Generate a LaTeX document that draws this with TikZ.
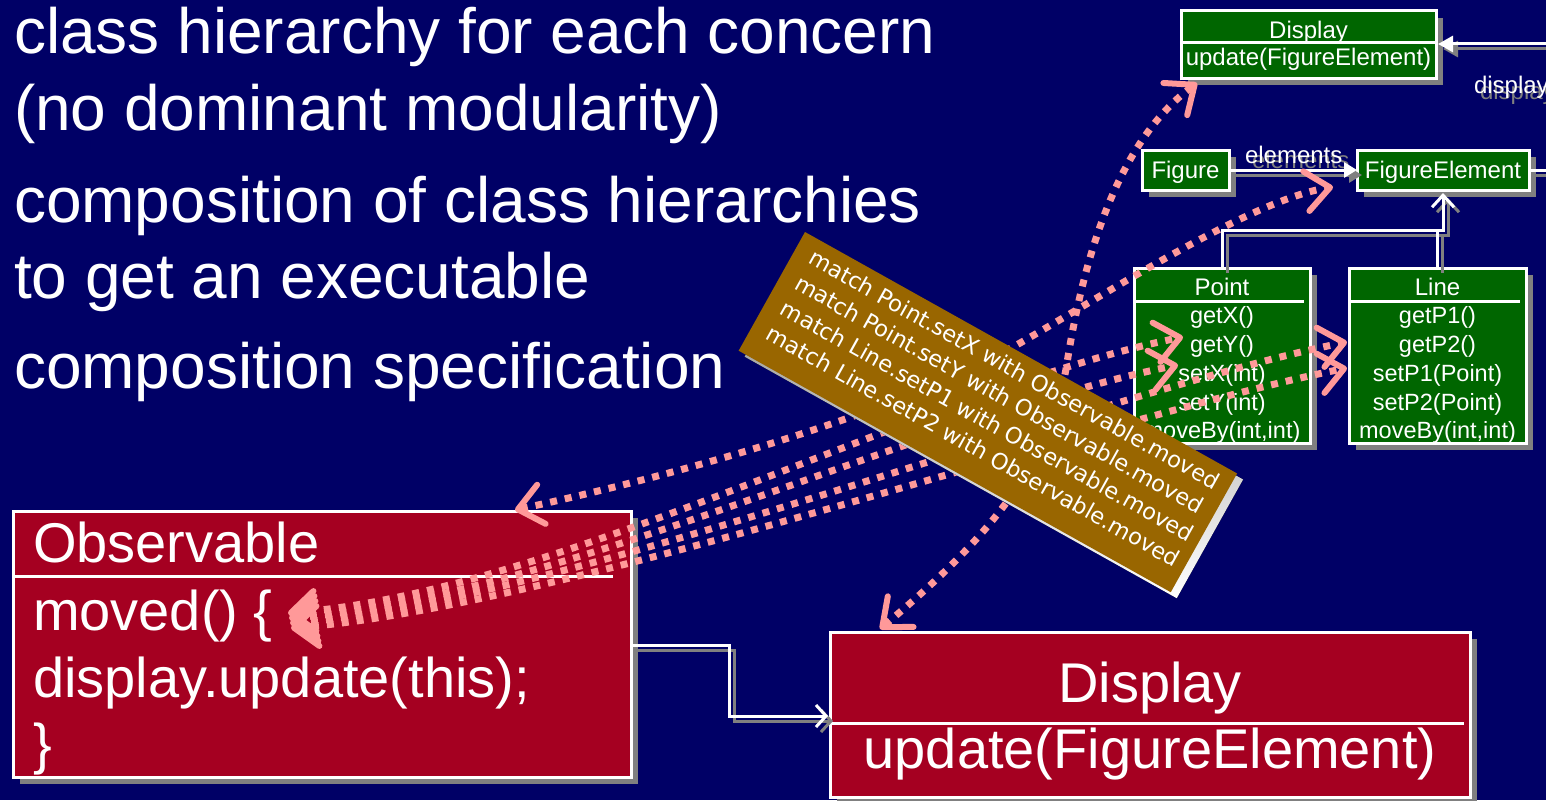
\documentclass[tikz,border=0pt]{standalone}
\usepackage{fontspec}
\setmainfont{Liberation Sans}
\newfontfamily\notefont{DejaVu Sans}
\usetikzlibrary{arrows.meta,calc,shadows}

\definecolor{slidebg}{RGB}{0,0,102}
\definecolor{classred}{RGB}{165,0,33}
\definecolor{classgreen}{RGB}{0,102,0}
\definecolor{notebrown}{RGB}{153,102,0}
\definecolor{linkpink}{RGB}{255,153,153}
\definecolor{shade}{RGB}{128,128,128}
\newcommand\setsz[1]{\fontsize{#1}{#1}\selectfont}

\tikzset{
  every node/.style={inner sep=0pt,outer sep=0pt,text=white},
  heading/.style={font=\setsz{64},anchor=base west},
  small/.style={font=\setsz{24},anchor=base},
  member/.style={font=\setsz{23.5},anchor=base},
  large/.style={font=\setsz{56}},
  boxshadow/.style={drop shadow={shadow xshift=7pt,shadow yshift=-7pt,opacity=1,fill=shade}},
  classbox/.style={draw=white,line width=3pt,anchor=north west,boxshadow},
  greenbox/.style={classbox,fill=classgreen},
  redbox/.style={classbox,fill=classred},
  divider/.style={draw=white,line width=3pt},
  umllink/.style={line width=3pt},
  pinklink/.style={draw=linkpink,line width=7pt,dash pattern=on 7pt off 8pt,
    <->,>={Straight Barb[length=24pt,width=40pt,line width=6pt,round]}},
  notetext/.style={font=\notefont\setsz{22.5},anchor=base west,transform shape},
}

\begin{document}
\begin{tikzpicture}[x=1pt,y=-1pt]
\useasboundingbox (0,0) rectangle (1546,800);
\clip (0,0) rectangle (1546,800);
\fill[slidebg] (0,0) rectangle (1546,800);

% slide text
\node[heading] (h1) at (14,53) {class hierarchy for each concern};
\node[heading] (h2) at (14,130) {(no dominant modularity)};
\node[heading] (h3) at (14,222) {composition of class hierarchies};
\node[heading] (h4) at (14,298) {to get an executable};
\node[heading] (h5) at (14,388) {composition specification};

% figure-editor classes
\node[greenbox,minimum width=255pt,minimum height=67pt] (topdisp) at (1181,11) {};
\draw[divider] ($(topdisp.north west)+(0,32)$) -- ($(topdisp.north east)+(0,32)$);
\node[small] at (1308.5,38) {Display};
\node[small] at (1308.5,66) {update(FigureElement)};

\node[greenbox,minimum width=87pt,minimum height=40pt] (figure) at (1142,150) {};
\node[small] at (1185.5,178) {Figure};
\node[greenbox,minimum width=172pt,minimum height=40pt] (felem) at (1357,150) {};
\node[small] at (1443,178) {FigureElement};

\node[greenbox,minimum width=176pt,minimum height=175pt] (pointcls) at (1134,268) {};
\draw[divider] ($(pointcls.north west)+(0,33)$) -- ($(pointcls.north east)+(-6,33)$);
\node[small] at (1222,295) {Point};
\node[member] at (1222,323) {getX()};
\node[member] at (1222,352) {getY()};
\node[member] at (1222,381) {setX(int)};
\node[member] at (1222,410) {setY(int)};
\node[member] at (1222,438) {moveBy(int,int)};

\node[greenbox,minimum width=177pt,minimum height=175pt] (linecls) at (1349,268) {};
\draw[divider] ($(linecls.north west)+(0,33)$) -- ($(linecls.north east)+(-6,33)$);
\node[small] at (1437.5,295) {Line};
\node[member] at (1437.5,323) {getP1()};
\node[member] at (1437.5,352) {getP2()};
\node[member] at (1437.5,381) {setP1(Point)};
\node[member] at (1437.5,410) {setP2(Point)};
\node[member] at (1437.5,438) {moveBy(int,int)};

% observer classes
\node[redbox,minimum width=618pt,minimum height=266pt] (obs) at (13,511) {};
\draw[divider] ($(obs.north west)+(0,65)$) -- ($(obs.north east)+(-18,65)$);
\node[large,anchor=base west] at (33,562) {Observable};
\node[large,anchor=base west] at (33,630) {moved() \{};
\node[large,anchor=base west] at (33,697) {display.update(this);};
\node[large,anchor=base west] at (33,763) {\}};

\node[redbox,minimum width=640pt,minimum height=165pt] (bigdisp) at (830,632) {};
\draw[divider] ($(bigdisp.north west)+(0,91)$) -- ($(bigdisp.north east)+(-6,91)$);
\node[large,anchor=base] at (1150,702) {Display};
\node[large,anchor=base] at (1150,768) {update(FigureElement)};

% association labels with their drop shadows
\node[small,anchor=base west,text=shade] at (1252,168) {elements};
\node[small,anchor=base west] (elemlabel) at (1245,163) {elements};
\node[small,anchor=base west,text=shade] at (1480,99) {display};
\node[small,anchor=base west] (displabel) at (1474,93) {display};

% UML connectors, shadow first
\coordinate (dispsrc) at (1560,44);
\coordinate (felemout) at (1560,170);
\foreach \col/\off in {shade/5pt,white/0pt}{
  \begin{scope}[transform canvas={xshift=\off,yshift=-\off},color=\col]
    \draw[umllink,-{Triangle[length=15pt,width=16pt]}] (dispsrc) -- ($(topdisp.north east)+(2,33)$);
    \draw[umllink,-{Triangle[length=13pt,width=15pt]}] (figure.east) -- (felem.west);
    \draw[umllink] (felem.east) -- (felemout);
    \draw[umllink,-{Straight Barb[length=12pt,width=22pt]}] (pointcls.north) -- ++(0,-38) -| ($(felem.south)+(0,3)$);
    \draw[umllink] (linecls.north) -- ++(0,-38);
    \draw[umllink,-{Straight Barb[length=10pt,width=22pt]}] ($(obs.north east)+(0,134)$) -- ++(98,0) |- ($(bigdisp.north west)+(-2,84)$);
  \end{scope}
}

% composition links
\coordinate (dispbend) at (1067,363);
\coordinate (febend) at (1013,347);
\coordinate (movedA) at ($(obs.north west)+(275,102)$);
\coordinate (movedB) at ($(obs.north west)+(276,107)$);
\coordinate (movedC) at ($(obs.north west)+(277,112)$);
\coordinate (movedD) at ($(obs.north west)+(278,117)$);
\draw[pinklink] ($(bigdisp.north west)+(50,-3)$) .. controls +(100,-84) and +(-17,107) .. (dispbend)
  .. controls +(18,-113) and +(-77,57) .. ($(topdisp.south west)+(16,5)$);
\draw[pinklink] ($(obs.north east)+(-116,-1)$) .. controls +(185,-40) and +(-113,63) .. (febend)
  .. controls +(87,-49) and +(-83,13) .. ($(felem.south west)+(-24,-3)$);
\draw[pinklink] (movedA) .. controls +(270,-20) and +(-250,50) .. ($(pointcls.north west)+(49,69)$);
\draw[pinklink] (movedB) .. controls +(270,-20) and +(-250,50) .. ($(pointcls.north west)+(44,97)$);
\draw[pinklink] (movedC) .. controls +(270,-20) and +(-250,50) .. ($(linecls.north west)+(-2,74)$);
\draw[pinklink] (movedD) .. controls +(270,-20) and +(-250,50) .. ($(linecls.north west)+(-2,100)$);

% composition specification note
\begin{scope}[shift={(811,238)},rotate=-29.2]
  \fill[shade] (0,0) rectangle (495,136);
\end{scope}
\begin{scope}[shift={(805,232)},rotate=-29.2]
  \node[fill=notebrown,anchor=north west,minimum width=495pt,minimum height=136pt,transform shape] (note) at (0,0) {};
  \node[notetext] at (17,26) {match Point.setX with Observable.moved};
  \node[notetext] at (17,55) {match Point.setY with Observable.moved};
  \node[notetext] at (17,84) {match Line.setP1 with Observable.moved};
  \node[notetext] at (17,113) {match Line.setP2 with Observable.moved};
\end{scope}
\end{tikzpicture}
\end{document}
